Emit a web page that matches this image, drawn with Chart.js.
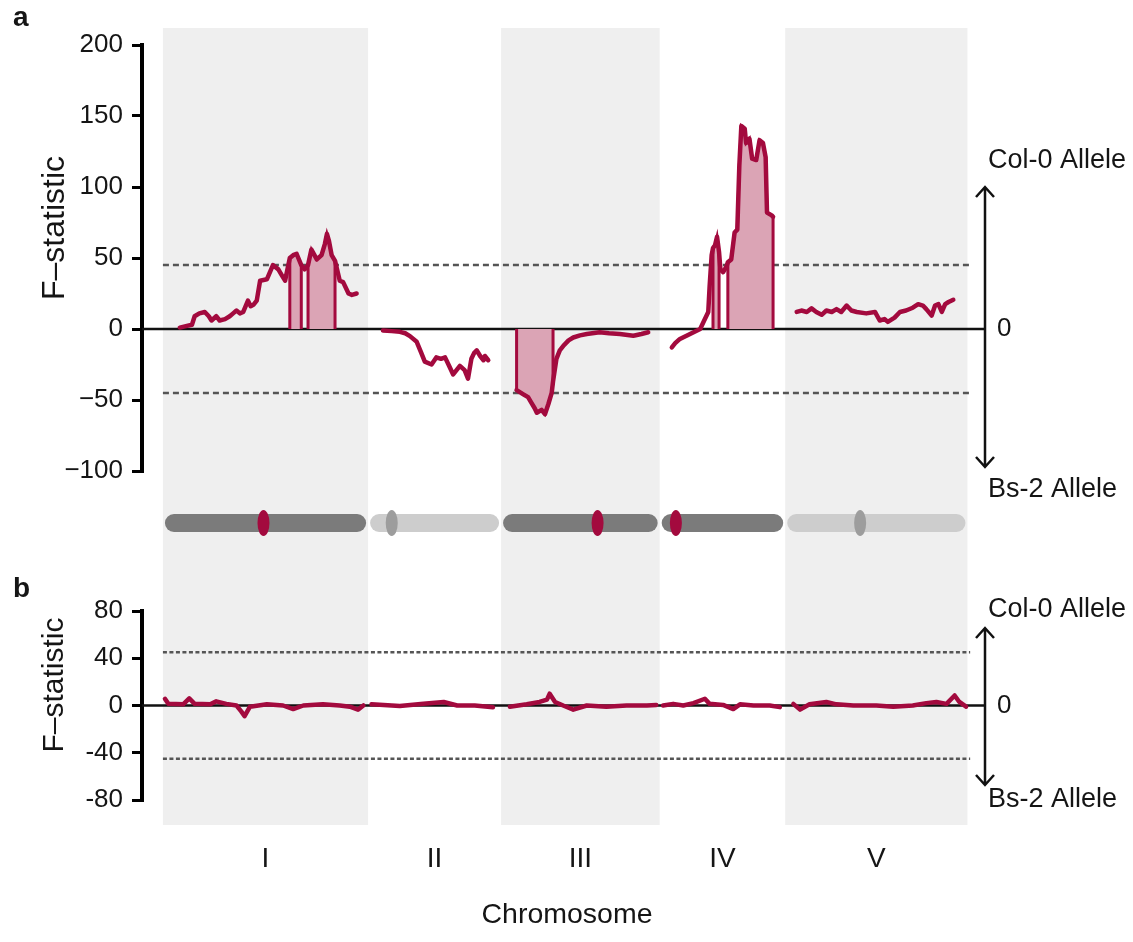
<!DOCTYPE html>
<html>
<head>
<meta charset="utf-8">
<script src="https://cdn.jsdelivr.net/npm/chart.js@4.4.1/dist/chart.umd.min.js"></script>
<style>
  html, body { margin: 0; padding: 0; background: #fff; }
  #wrap { position: relative; width: 1133px; height: 942px; }
  #wrap canvas { position: absolute; left: 0; }
  #chartA { top: 0; }
  #chartB { top: 560px; }
</style>
</head>
<body>
<div id="wrap">
  <canvas id="chartA" width="1133" height="560" style="width:1133px;height:560px"></canvas>
  <canvas id="chartB" width="1133" height="382" style="width:1133px;height:382px"></canvas>
</div>
<script>
// chromosomes (Mb)
const chromNames = ['I', 'II', 'III', 'IV', 'V'];
const chromLengths = [30.4, 19.7, 23.5, 18.6, 27.0];
const centromeres = [14.9, 3.5, 14.3, 2.4, 11.1];

// panel a: position along chromosome (Mb) and F-statistic
const aPos = [
  [2.5, 3.4, 4.3, 4.7, 5.4, 6.2, 6.8, 7.2, 7.9, 8.4, 9.2, 9.9, 10.4, 10.9, 11.4, 11.9, 12.6, 13.0, 13.4, 13.9, 14.4, 15.4, 16.3, 17.1, 17.6, 18.1, 18.8, 19.3, 19.8, 20.5, 21.0, 21.5, 22.0, 22.8, 23.5, 24.0, 24.3, 24.6, 25.0, 25.5, 26.2, 26.7, 27.5, 28.0, 28.7],
  [2.2, 3.5, 4.7, 5.5, 6.2, 7.2, 7.8, 8.4, 9.4, 10.1, 10.8, 11.4, 12.1, 12.6, 13.1, 13.6, 14.3, 14.8, 15.3, 15.7, 16.1, 16.6, 17.1, 17.3, 17.8],
  [2.3, 3.3, 4.0, 4.5, 5.0, 5.3, 6.0, 6.5, 7.0, 7.5, 7.7, 8.2, 8.7, 9.2, 10.0, 10.7, 11.7, 12.7, 14.6, 16.0, 17.6, 19.6, 20.8, 21.8],
  [1.8, 2.3, 3.0, 4.5, 6.0, 6.7, 7.2, 7.4, 7.7, 7.9, 8.2, 8.5, 8.8, 9.0, 9.4, 9.9, 10.1, 10.6, 11.1, 11.5, 11.8, 12.1, 12.6, 12.8, 13.3, 13.7, 14.3, 14.8, 15.3, 15.7, 15.9, 16.6, 16.8],
  [1.7, 2.4, 3.2, 3.9, 4.6, 5.4, 6.1, 6.9, 7.6, 8.3, 9.1, 9.8, 10.6, 12.0, 13.3, 14.0, 14.7, 15.2, 16.2, 17.0, 17.9, 18.9, 19.7, 20.4, 20.9, 21.7, 22.2, 22.7, 23.2, 23.7, 24.2, 24.9]
];
const aF = [
  [1, 2, 3, 9, 11, 12, 9, 6, 9, 6, 7, 9, 11, 13, 11, 12, 20, 16, 17, 20, 34, 35, 45, 42, 38, 34, 50, 52, 53, 45, 42, 45, 56, 49, 52, 60, 67, 62, 52, 48, 34, 33, 25, 24, 25],
  [-1, -1.5, -2, -3, -5, -9, -16, -23, -25, -20, -21, -20, -27, -32, -29, -26, -29, -35, -21, -17, -15, -19, -22, -19, -22],
  [-43, -46, -48, -52, -56, -59, -57, -60, -53, -45, -37, -21, -15, -12, -8, -6, -4.5, -3.5, -2.3, -3, -3.5, -4.7, -3.5, -2.3],
  [-13, -10, -7, -3.5, 0, 7, 12, 30, 52, 57, 59, 65, 54, 42, 40, 44, 47, 49, 68, 70, 115, 143, 141, 131, 134, 120, 119, 133, 131, 121, 82, 80, 79],
  [12, 13, 12, 14.5, 12, 10, 13, 12, 14, 12, 16.5, 13, 12, 11, 12, 6, 7, 5, 8, 12, 13, 15, 17.5, 16.5, 14, 9.5, 16.5, 17.5, 12, 17.5, 19, 20.6]
];
// significant intervals (Mb) per chromosome in panel a
const aSig = [[[18.8, 20.5], [21.5, 25.5]], [], [[2.3, 7.7]], [[7.9, 8.8], [10.1, 16.8]], []];

// panel b
const bPos = [
  [0.3, 0.8, 3.0, 3.9, 4.7, 7.0, 7.9, 9.4, 10.9, 11.6, 12.1, 12.9, 15.4, 17.8, 19.3, 20.8, 23.7, 26.2, 27.7, 28.9, 29.7],
  [0.5, 4.7, 8.2, 11.2, 13.2, 15.8, 18.5],
  [1.3, 3.8, 5.7, 6.8, 7.2, 8.0, 9.2, 10.7, 12.7, 15.6, 18.6, 21.6, 23.0],
  [0.5, 2.0, 3.5, 5.0, 6.7, 7.4, 9.4, 10.9, 11.9, 13.9, 16.3, 17.8],
  [1.2, 2.2, 3.6, 6.1, 7.6, 10.1, 13.5, 16.0, 18.9, 20.9, 22.4, 23.9, 25.1, 25.8, 26.8]
];
const bF = [
  [5.7, 1.4, 1, 6, 1.4, 1, 3.5, 1.4, 0, -5, -9, -1, 1, 0, -3, 0, 1, 0, -1, -3.5, 0],
  [1, -0.5, 1.5, 3, 0, 0, -1.5],
  [-1, 1, 3, 5, 10, 3, 0, -3.5, 0, -1, 0, 0, 0.5],
  [0, 1.4, 0, 2, 5.7, 1.4, 0.5, -3, 1, 0, 0, -1.4],
  [1.4, -3.5, 1, 3, 1, 0, 0, -1, 0, 2, 3, 1.4, 8.5, 3, -1]
];
const bSig = [[], [], [], [], []];

const threshold = 45;
const aTicks = { min: -100, max: 200, step: 50 };
const bTicks = { min: -80, max: 80, step: 40 };

// ---- styling ----
const FONT = '"Liberation Sans", Arial, Helvetica, sans-serif';
const traceRed = '#a30a3e';
const sigPink = '#dba4b5';
const bandGray = '#efefef';
const textCol = '#151515';
const stripColors = ['#7b7b7b', '#cdcdcd', '#7b7b7b', '#7b7b7b', '#cdcdcd'];
const cenColors = [traceRed, '#9d9d9d', traceRed, traceRed, '#9d9d9d'];
const xMin = -3.1, xMax = 121.8;

const offsets = chromLengths.map((_, i) => chromLengths.slice(0, i).reduce((s, v) => s + v, 0));

function buildDatasets(pos, f, sig) {
  const sets = [];
  pos.forEach((p, c) => {
    const off = offsets[c];
    sets.push({
      data: p.map((v, i) => ({ x: off + v, y: f[c][i] })),
      borderColor: traceRed, borderWidth: 4.5, pointRadius: 0, fill: false,
      borderJoinStyle: 'round', borderCapStyle: 'round', tension: 0, order: 1
    });
    sig[c].forEach(([lo, hi]) => {
      const pts = [{ x: off + lo, y: 0 }];
      p.forEach((v, i) => { if (v >= lo && v <= hi) pts.push({ x: off + v, y: f[c][i] }); });
      pts.push({ x: off + hi, y: 0 });
      sets.push({
        data: pts, borderColor: traceRed, borderWidth: 3, backgroundColor: sigPink,
        fill: 'origin', pointRadius: 0, tension: 0, order: 2
      });
    });
  });
  return sets;
}

function text(ctx, str, x, y, size, align, bold) {
  ctx.font = (bold ? 'bold ' : '') + size + 'px ' + FONT;
  ctx.fillStyle = textCol;
  ctx.textAlign = align;
  ctx.textBaseline = 'middle';
  ctx.fillText(str, x, y);
}

function decor(o) {
  return {
    id: 'decor' + o.letter,
    beforeDraw(chart) {
      const { ctx, scales: { x } } = chart;
      ctx.save();
      ctx.fillStyle = bandGray;
      chromLengths.forEach((len, i) => {
        if (i % 2) return;
        const l = x.getPixelForValue(offsets[i]);
        const r = x.getPixelForValue(offsets[i] + len);
        ctx.fillRect(l, o.bandTop, r - l, o.bandBottom - o.bandTop);
      });
      ctx.restore();
    },
    beforeDatasetsDraw(chart) {
      const { ctx, chartArea, scales: { x, y } } = chart;
      ctx.save();
      ctx.strokeStyle = '#555';
      ctx.lineWidth = 2.5;
      ctx.setLineDash(o.dash);
      [threshold, -threshold].forEach(v => {
        const py = y.getPixelForValue(v);
        ctx.beginPath();
        ctx.moveTo(x.getPixelForValue(0), py);
        ctx.lineTo(x.getPixelForValue(119.6), py);
        ctx.stroke();
      });
      ctx.setLineDash([]);
      ctx.strokeStyle = '#111';
      const y0 = y.getPixelForValue(0);
      ctx.beginPath();
      ctx.moveTo(chartArea.left, y0);
      ctx.lineTo(chartArea.right, y0);
      ctx.stroke();
      ctx.restore();
    },
    afterDraw(chart) {
      const { ctx, chartArea, scales: { x, y } } = chart;
      ctx.save();
      // allele direction arrow on the right
      const ax = chartArea.right;
      ctx.strokeStyle = '#111';
      ctx.lineWidth = 2.5;
      ctx.beginPath();
      ctx.moveTo(ax, o.arrowTop); ctx.lineTo(ax, o.arrowBottom);
      ctx.moveTo(ax - 9, o.arrowTop + 10); ctx.lineTo(ax, o.arrowTop); ctx.lineTo(ax + 9, o.arrowTop + 10);
      ctx.moveTo(ax - 9, o.arrowBottom - 10); ctx.lineTo(ax, o.arrowBottom); ctx.lineTo(ax + 9, o.arrowBottom - 10);
      ctx.stroke();
      text(ctx, '0', ax + 12, y.getPixelForValue(0), 26, 'left');
      text(ctx, 'Col-0 Allele', ax + 3, o.colY, 27, 'left');
      text(ctx, 'Bs-2 Allele', ax + 3, o.bsY, 27, 'left');

      // panel letter and y title
      ctx.font = 'bold 28px ' + FONT;
      ctx.fillStyle = textCol;
      ctx.textAlign = 'left';
      ctx.textBaseline = 'alphabetic';
      ctx.fillText(o.letter, 13, o.letterY);
      ctx.save();
      ctx.translate(55, o.titleY);
      ctx.rotate(-Math.PI / 2);
      text(ctx, 'F\u2013statistic', 0, 0, o.titleSize, 'center');
      ctx.restore();

      if (o.stripY) {
        chromLengths.forEach((len, i) => {
          const l = x.getPixelForValue(offsets[i]) + 2;
          const r = x.getPixelForValue(offsets[i] + len) - 2;
          ctx.fillStyle = stripColors[i];
          ctx.beginPath();
          ctx.roundRect(l, o.stripY - 9, r - l, 18, 9);
          ctx.fill();
          const cx = x.getPixelForValue(offsets[i] + centromeres[i]);
          ctx.fillStyle = cenColors[i];
          ctx.beginPath();
          ctx.ellipse(cx, o.stripY, 6, 13, 0, 0, Math.PI * 2);
          ctx.fill();
        });
      }
      if (o.xTitleY) text(ctx, 'Chromosome', 567, o.xTitleY, 28.5, 'center');
      ctx.restore();
    }
  };
}

function yScale(t, minus) {
  return {
    min: t.min, max: t.max,
    ticks: {
      stepSize: t.step, padding: 9, color: textCol,
      font: { family: FONT, size: 26 },
      callback: v => (v < 0 && minus) ? '\u2212' + Math.abs(v) : String(v)
    },
    grid: { display: true, drawOnChartArea: false, drawTicks: true, tickLength: 10, lineWidth: 3, color: '#000' },
    border: { display: true, width: 4, color: '#000' },
    afterFit(scale) { scale.width = 142; }
  };
}

const common = {
  responsive: false,
  animation: false,
  devicePixelRatio: 1,
  plugins: { legend: { display: false }, tooltip: { enabled: false } }
};

new Chart(document.getElementById('chartA'), {
  type: 'line',
  data: { datasets: buildDatasets(aPos, aF, aSig) },
  options: Object.assign({}, common, {
    layout: { padding: { top: 45, bottom: 89, left: 0, right: 148 } },
    scales: {
      x: { type: 'linear', min: xMin, max: xMax, display: false },
      y: yScale(aTicks, true)
    }
  }),
  plugins: [decor({
    letter: 'a', letterY: 26, titleY: 228, titleSize: 32,
    bandTop: 28, bandBottom: 560, dash: [6, 4],
    arrowTop: 187, arrowBottom: 467, colY: 161, bsY: 490,
    stripY: 523
  })]
});

new Chart(document.getElementById('chartB'), {
  type: 'line',
  data: { datasets: buildDatasets(bPos, bF, bSig) },
  options: Object.assign({}, common, {
    layout: { padding: { top: 51, bottom: 0, left: 0, right: 148 } },
    scales: {
      x: {
        type: 'linear', min: xMin, max: xMax,
        afterBuildTicks(scale) {
          scale.ticks = offsets.map((o, i) => ({ value: o + chromLengths[i] / 2 }));
        },
        afterFit(scale) { scale.height = 142; },
        ticks: {
          autoSkip: false, maxRotation: 0, padding: 42, color: textCol,
          font: { family: FONT, size: 28 },
          callback: (v, i) => chromNames[i]
        },
        grid: { display: false, drawTicks: false },
        border: { display: false }
      },
      y: yScale(bTicks, false)
    }
  }),
  plugins: [decor({
    letter: 'b', letterY: 37, titleY: 125, titleSize: 30,
    bandTop: 0, bandBottom: 265, dash: [4, 2.5],
    arrowTop: 68, arrowBottom: 225, colY: 50, bsY: 240,
    xTitleY: 355
  })]
});
</script>
</body>
</html>
